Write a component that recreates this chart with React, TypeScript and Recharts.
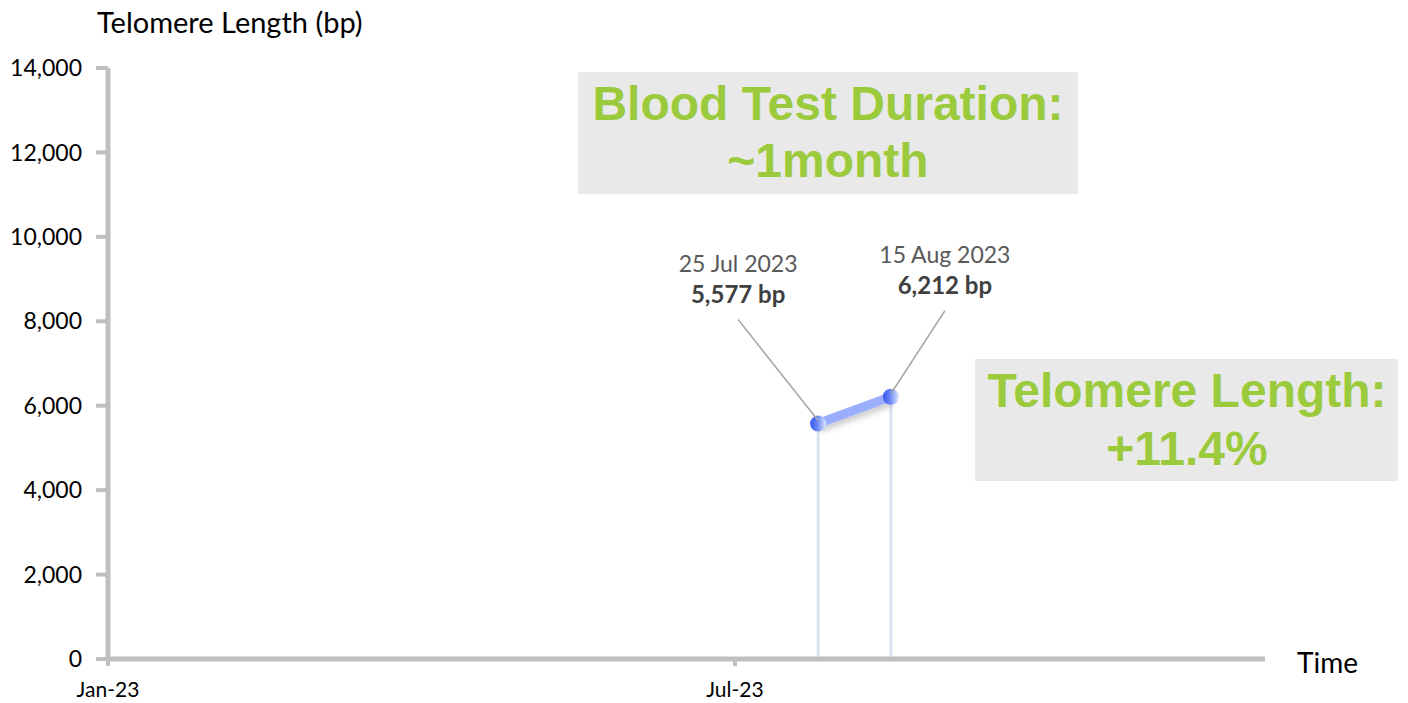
import { LineChart, Line, XAxis, YAxis, ReferenceLine, LabelList } from 'recharts';

const testDates = ['2023-07-25', '2023-08-15'];
const testDateLabels = ['25 Jul 2023', '15 Aug 2023'];
const telomereLengths = [5577, 6212];
const yTicks = [0, 2000, 4000, 6000, 8000, 10000, 12000, 14000];
const xTickDates = ['2023-01-01', '2023-07-01'];
const xTickLabels = ['Jan-23', 'Jul-23'];
const xDomainDates = ['2023-01-01', '2023-12-01'];

// where each callout sits relative to its point
const labelOffsets = [
  { dx: -80, dy: -152 },
  { dx: 54, dy: -134 },
];

const toTs = (s: string) => Date.parse(s + 'T00:00:00Z');

const data = testDates.map((d, i) => ({
  t: toTs(d),
  value: telomereLengths[i],
  label: testDateLabels[i],
}));

const xTicks = xTickDates.map(toTs);
const xDomain = xDomainDates.map(toTs);

const AXIS = '#bfbfbf';
const GREEN = '#9bcb3c';
const FONT = 'Lato, "Open Sans", sans-serif';
const BOX_FONT = '"Liberation Sans", Arial, sans-serif';

const fmtX = (v: number) => {
  const i = xTicks.indexOf(v);
  return i >= 0 ? xTickLabels[i] : '';
};

const renderDot = (props: any) => {
  const { cx, cy, index } = props;
  return <circle key={`dot-${index}`} cx={cx} cy={cy} r={8} fill="url(#dotGrad)" />;
};

const renderLabel = (props: any) => {
  const { x, y, index } = props;
  const off = labelOffsets[index];
  const lx = x + off.dx;
  const ly = y + off.dy;
  return (
    <g key={`lbl-${index}`}>
      <line x1={lx} y1={ly + 48} x2={x} y2={y - 3} stroke="#a6a6a6" strokeWidth={1.5} />
      <text x={lx} y={ly} textAnchor="middle" fontFamily={FONT} fontSize={23} fill="#595959">
        {testDateLabels[index]}
      </text>
      <text x={lx} y={ly + 31} textAnchor="middle" fontFamily={FONT} fontSize={24} fontWeight="bold" fill="#404040">
        {telomereLengths[index].toLocaleString('en-US')} bp
      </text>
    </g>
  );
};

export default function App() {
  return (
    <div style={{ position: 'absolute', left: 0, top: 0, width: 1408, height: 703, background: '#fff' }}>
      <svg width={0} height={0} style={{ position: 'absolute' }}>
        <defs>
          <linearGradient id="dotGrad" x1="0" y1="0" x2="1" y2="0">
            <stop offset="0%" stopColor="#3556ef" />
            <stop offset="45%" stopColor="#6a86f5" />
            <stop offset="100%" stopColor="#dfe7fb" />
          </linearGradient>
          <filter id="lineShadow" x="-20%" y="-50%" width="140%" height="200%">
            <feDropShadow dx="1" dy="4" stdDeviation="3" floodColor="#000" floodOpacity="0.22" />
          </filter>
        </defs>
      </svg>
      <LineChart width={1408} height={703} data={data} margin={{ top: 68, right: 143, left: 8, bottom: 4 }}>
        <XAxis
          dataKey="t"
          type="number"
          domain={xDomain}
          ticks={xTicks}
          tickFormatter={fmtX}
          axisLine={{ stroke: AXIS, strokeWidth: 5 }}
          tickLine={{ stroke: AXIS, strokeWidth: 4 }}
          tickSize={7}
          tickMargin={16}
          height={40}
          tick={{ fill: '#000', fontSize: 21, fontFamily: FONT }}
        />
        <YAxis
          type="number"
          domain={[0, 14000]}
          ticks={yTicks}
          tickFormatter={(v: number) => v.toLocaleString('en-US')}
          axisLine={{ stroke: AXIS, strokeWidth: 5 }}
          tickLine={{ stroke: AXIS, strokeWidth: 4 }}
          tickSize={12}
          tickMargin={14}
          width={100}
          tick={{ fill: '#000', fontSize: 23, fontFamily: FONT }}
        />
        {data.map((d) => (
          <ReferenceLine
            key={d.t}
            segment={[{ x: d.t, y: 0 }, { x: d.t, y: d.value }]}
            stroke="#dbe4f5"
            strokeWidth={3}
          />
        ))}
        <Line
          type="linear"
          dataKey="value"
          stroke="#9aaefd"
          strokeWidth={9}
          filter="url(#lineShadow)"
          dot={renderDot}
          activeDot={false}
          isAnimationActive={false}
        >
          <LabelList dataKey="value" content={renderLabel} />
        </Line>
      </LineChart>
      <svg width={1408} height={703} style={{ position: 'absolute', left: 0, top: 0, pointerEvents: 'none' }}>
        <text x={97} y={33} fontFamily={FONT} fontSize={29} fill="#000">Telomere Length (bp)</text>
        <text x={1297} y={673} fontFamily={FONT} fontSize={28} fill="#000">Time</text>
        <rect x={578} y={72} width={500} height={122} fill="#e9e9e9" />
        <text x={828} y={120} textAnchor="middle" fontFamily={BOX_FONT} fontWeight="bold" fontSize={48} fill={GREEN}>
          Blood Test Duration:
        </text>
        <text x={828} y={177} textAnchor="middle" fontFamily={BOX_FONT} fontWeight="bold" fontSize={48} fill={GREEN}>
          ~1month
        </text>
        <rect x={975} y={359} width={423} height={122} fill="#e9e9e9" />
        <text x={1187} y={407} textAnchor="middle" fontFamily={BOX_FONT} fontWeight="bold" fontSize={48} fill={GREEN}>
          Telomere Length:
        </text>
        <text x={1187} y={465} textAnchor="middle" fontFamily={BOX_FONT} fontWeight="bold" fontSize={48} fill={GREEN}>
          +11.4%
        </text>
      </svg>
    </div>
  );
}
